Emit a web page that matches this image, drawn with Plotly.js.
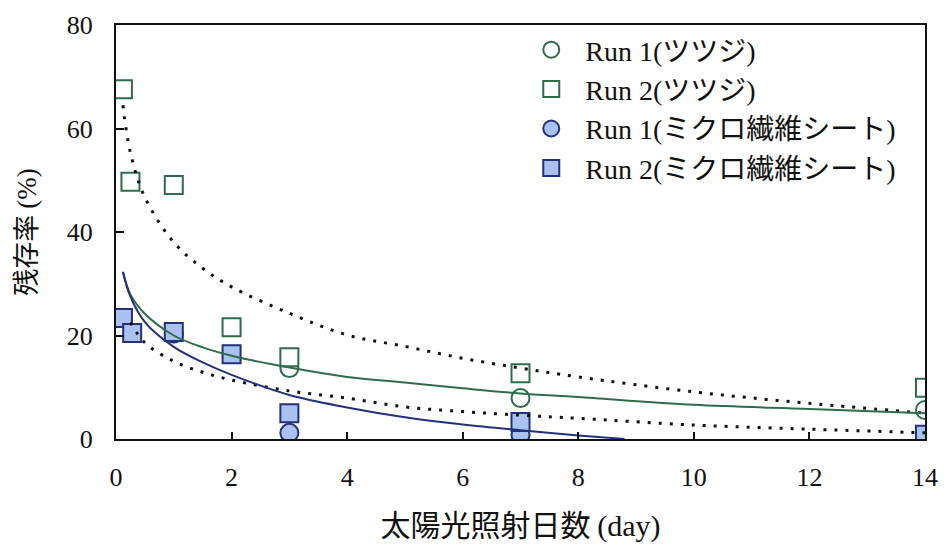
<!DOCTYPE html>
<html>
<head>
<meta charset="utf-8">
<script src="https://cdn.plot.ly/plotly-3.0.1.min.js"></script>
<style>html,body{margin:0;padding:0;background:#fff;}#chart{width:945px;height:554px;}</style>
</head>
<body>
<div id="chart"></div>
<script>
// ---- data ----
const seriesNames = ["Run 1(ツツジ)", "Run 2(ツツジ)", "Run 1(ミクロ繊維シート)", "Run 2(ミクロ繊維シート)"];

const run1AzaleaX = [3, 7, 14];
const run1AzaleaY = [13.7, 7.9, 5.6];

const run2AzaleaX = [0.12, 0.25, 1, 2, 3, 7, 14];
const run2AzaleaY = [67.6, 49.7, 49.1, 21.6, 15.8, 12.7, 9.9];

const run1SheetX = [1, 3, 7, 14];
const run1SheetY = [20.4, 1.2, 0.8, 0.5];

const run2SheetX = [0.12, 0.28, 1, 2, 3, 7, 14];
const run2SheetY = [23.4, 20.5, 20.7, 16.4, 5.0, 3.3, 0.8];

// fitted curves
const fitAzalea2X = [0.12, 0.25, 0.5, 1, 1.5, 2, 3, 4, 5, 6, 7, 8, 10, 12, 14];
const fitAzalea2Y = [64.5, 55.3, 46.7, 38.0, 33.0, 29.4, 24.3, 20.1, 17.9, 15.6, 13.7, 12.0, 9.1, 6.9, 5.0];

const fitAzalea1X = [0.12, 0.25, 0.5, 1, 1.5, 2, 3, 4, 5, 6, 7, 8, 10, 12, 14];
const fitAzalea1Y = [32.2, 27.9, 24.2, 20.0, 17.7, 16.1, 13.8, 12.0, 10.9, 9.8, 8.8, 8.1, 6.6, 5.8, 5.0];

const fitSheet1X = [0.12, 0.25, 0.5, 1, 1.5, 2, 3, 4, 5, 6, 7, 8, 8.8];
const fitSheet1Y = [32.3, 27.5, 22.6, 17.8, 14.8, 12.4, 8.5, 6.1, 4.2, 2.8, 1.7, 0.7, 0.0];

const fitSheet2X = [0.25, 0.5, 1, 1.5, 2, 3, 4, 5, 6, 7, 8, 10, 12, 14];
const fitSheet2Y = [22.5, 18.6, 15.0, 12.9, 11.4, 9.3, 7.9, 6.2, 5.3, 4.6, 4.0, 2.7, 1.9, 1.2];

const xTicks = [0, 2, 4, 6, 8, 10, 12, 14];
const yTicks = [0, 20, 40, 60, 80];

// ---- styles ----
const green = "#2f6c4c";
const navy = "#23307a";
const lightBlue = "#a9c2f2";
const serif = "Liberation Serif, 'Noto Sans CJK JP', serif";

const traces = [
  {x: run1AzaleaX, y: run1AzaleaY, name: seriesNames[0], mode: "markers", legendrank: 1,
   marker: {symbol: "circle", size: 18, color: "white", line: {color: green, width: 2}}},
  {x: run1SheetX, y: run1SheetY, name: seriesNames[2], mode: "markers", legendrank: 3,
   marker: {symbol: "circle", size: 18, color: lightBlue, line: {color: navy, width: 2}}},
  {x: run2AzaleaX, y: run2AzaleaY, name: seriesNames[1], mode: "markers", legendrank: 2,
   marker: {symbol: "square", size: 18, color: "white", line: {color: green, width: 2}}},
  {x: run2SheetX, y: run2SheetY, name: seriesNames[3], mode: "markers", legendrank: 4,
   marker: {symbol: "square", size: 18, color: lightBlue, line: {color: navy, width: 2}}},
  {x: fitAzalea2X, y: fitAzalea2Y, mode: "lines", showlegend: false, hoverinfo: "skip",
   line: {color: "#111", width: 3, dash: "3px,8px", shape: "spline"}},
  {x: fitSheet2X, y: fitSheet2Y, mode: "lines", showlegend: false, hoverinfo: "skip",
   line: {color: "#111", width: 3, dash: "3px,8px", shape: "spline"}},
  {x: fitAzalea1X, y: fitAzalea1Y, mode: "lines", showlegend: false, hoverinfo: "skip",
   line: {color: green, width: 2, shape: "spline"}},
  {x: fitSheet1X, y: fitSheet1Y, mode: "lines", showlegend: false, hoverinfo: "skip",
   line: {color: navy, width: 2, shape: "spline"}}
];

const layout = {
  width: 945, height: 554,
  margin: {l: 116, r: 20, t: 25, b: 115},
  paper_bgcolor: "white", plot_bgcolor: "white",
  font: {family: serif, color: "#111", size: 24},
  showlegend: true,
  legend: {x: 0.496, y: 1.0, xanchor: "left", yanchor: "top", bgcolor: "rgba(0,0,0,0)",
           font: {family: serif, size: 28, color: "#111"}, itemwidth: 58, tracegroupgap: 0},
  xaxis: {
    range: [0, 14], tickvals: xTicks, ticktext: xTicks.map(String),
    showline: true, mirror: true, linecolor: "#111", linewidth: 2,
    ticks: "inside", ticklen: 7, tickwidth: 2, tickcolor: "#111",
    showgrid: false, zeroline: false, ticklabelstandoff: 14,
    tickfont: {family: serif, size: 26, color: "#111"},
    title: {text: '太陽光照射日数 <span style="font-family:Liberation Serif">(day)</span>',
            font: {family: "'Noto Sans CJK JP', sans-serif", size: 30, color: "#111"}, standoff: 24}
  },
  yaxis: {
    range: [0, 80], tickvals: yTicks, ticktext: yTicks.map(String),
    showline: true, mirror: true, linecolor: "#111", linewidth: 2,
    ticks: "inside", ticklen: 8, tickwidth: 2, tickcolor: "#111",
    showgrid: false, zeroline: false, ticklabelstandoff: 16,
    tickfont: {family: serif, size: 26, color: "#111"},
    title: {text: '残存率 <span style="font-family:Liberation Serif">(%)</span>',
            font: {family: "'Noto Sans CJK JP', sans-serif", size: 27, color: "#111"}, standoff: 22}
  }
};

Plotly.newPlot("chart", traces, layout, {displayModeBar: false, staticPlot: true});
</script>
</body>
</html>
